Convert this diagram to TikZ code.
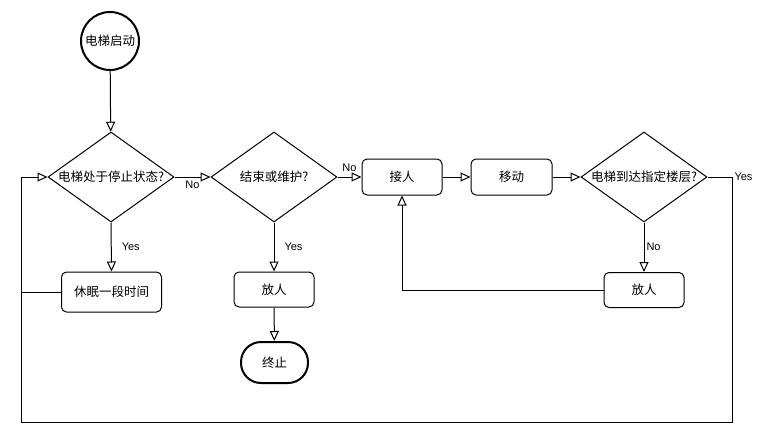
\documentclass[tikz,border=0pt]{standalone}
\usepackage{fontspec}
\setmainfont{Liberation Sans}
\newfontfamily\cjk{Noto Sans CJK SC}
\usetikzlibrary{shapes.geometric,arrows.meta}
\tikzset{
  base/.style={draw=black, line width=1pt, font=\cjk\fontsize{12.5}{14}\selectfont, inner sep=0pt, align=center},
  proc/.style={base, rectangle, rounded corners=5pt, minimum width=80pt, minimum height=36pt},
  dec/.style={base, diamond, aspect=1.4, minimum width=126pt, minimum height=90pt},
  startc/.style={base, circle, line width=2pt, minimum size=58pt},
  term/.style={base, rectangle, rounded corners=20pt, line width=2pt, minimum width=67pt, minimum height=41pt},
  lbl/.style={font=\fontsize{11}{13}\selectfont, inner sep=2pt},
  arr/.style={line width=1pt, -{Triangle[open, length=10pt, width=9pt]}},
  ln/.style={line width=1pt}
}
\begin{document}
\begin{tikzpicture}[x=1pt,y=-1pt]
\useasboundingbox (0,0) rectangle (762,442);
\node[startc] (start) at (110,41) {电梯启动};
\node[dec] (d1) at (111,177) {电梯处于停止状态?};
\node[dec] (d2) at (274,177) {结束或维护?};
\node[proc] (pick) at (402,177) {接人};
\node[proc, minimum width=81pt] (move) at (511.5,177) {移动};
\node[dec] (d3) at (644,177) {电梯到达指定楼层?};
\node[proc, minimum width=100pt, minimum height=40pt] (sleep) at (111.5,292) {休眠一段时间};
\node[proc, minimum height=35pt] (put1) at (274,289.5) {放人};
\node[proc, minimum height=35pt] (put2) at (644,290) {放人};
\node[term] (stop) at (274.5,362.5) {终止};
\coordinate (loopR) at (732,177);
\coordinate (loopB) at (21,422);
\coordinate (loopL) at (21,177);

\draw[arr] (start) -- (d1);
\draw[arr] (d1.east) -- node[lbl, below, yshift=-1pt]{No} (d2.west);
\draw[arr] (d2.east) -- node[lbl, above, pos=0.5, yshift=3pt]{No} (pick.west);
\draw[arr] (pick) -- (move);
\draw[arr] (move) -- (d3.west);
\draw[arr] (d3.south) -- node[lbl, right, pos=0.5]{No} (put2.north);
\draw[arr] (put2.west) -| (pick.south);
\draw[arr] (d1.south) -- node[lbl, right, xshift=8pt]{Yes} (sleep.north);
\draw[arr] (d2.south) -- node[lbl, right, xshift=8pt]{Yes} (put1.north);
\draw[arr] (put1) -- (stop);
\draw[ln] (d3.east) -- (loopR) node[lbl, right]{Yes};
\draw[arr] (loopR) |- (loopB) -- (loopL) -- (d1.west);
\draw[ln] (sleep.west) -- (sleep.west -| loopL);
\end{tikzpicture}
\end{document}
